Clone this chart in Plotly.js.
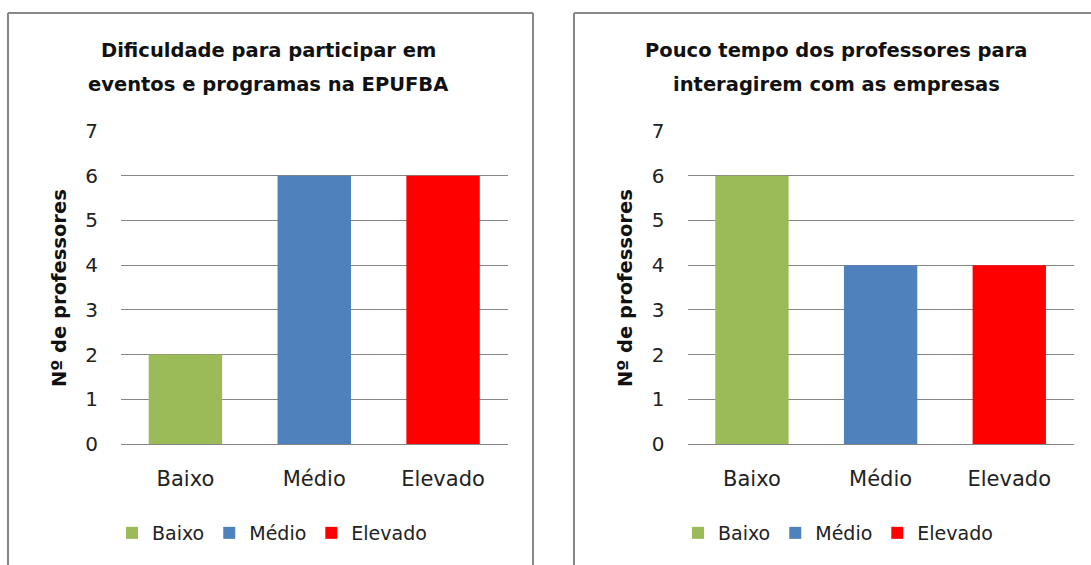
<!DOCTYPE html>
<html>
<head>
<meta charset="utf-8">
<script src="https://cdn.plot.ly/plotly-3.0.1.min.js"></script>
<style>html,body{margin:0;padding:0;background:#fff;}#chart{width:1091px;height:565px;}</style>
</head>
<body>
<div id="chart"></div>
<script>
const categories = ['Baixo', 'Médio', 'Elevado'];
const chart1Title = ['Dificuldade para participar em', 'eventos e programas na EPUFBA'];
const chart2Title = ['Pouco tempo dos professores para', 'interagirem com as empresas'];
const chart1Values = [2, 6, 6];
const chart2Values = [6, 4, 4];
const yTickValues = [0, 1, 2, 3, 4, 5, 6, 7];
const yAxisTitle = 'Nº de professores';
const barColors = ['#9BBB59', '#4F81BD', '#FF0000'];

const W = 1091, H = 565;
const px = x => x / W;
const py = y => (H - y) / H;
const FONT = '"DejaVu Sans", sans-serif';

const traces = [];
categories.forEach((c, i) => {
  traces.push({type: 'bar', x: [c], y: [chart1Values[i]], name: c, width: 0.57,
    marker: {color: barColors[i], line: {width: 0}}, xaxis: 'x', yaxis: 'y', legend: 'legend', hoverinfo: 'none'});
});
categories.forEach((c, i) => {
  traces.push({type: 'bar', x: [c], y: [chart2Values[i]], name: c, width: 0.57,
    marker: {color: barColors[i], line: {width: 0}}, xaxis: 'x2', yaxis: 'y2', legend: 'legend2', hoverinfo: 'none'});
});

const yax = (anchor) => ({
  anchor: anchor, domain: [py(444), py(131)], range: [0, 7], tickvals: yTickValues,
  showgrid: true, gridcolor: '#868686', gridwidth: 1, zeroline: true, zerolinecolor: '#868686', zerolinewidth: 1,
  showline: false, ticks: '', ticklabelstandoff: 22, tickfont: {family: FONT, size: 20, color: '#222'}, fixedrange: true
});
const xax = (anchor, d) => ({
  anchor: anchor, domain: d, type: 'category', categoryorder: 'array', categoryarray: categories,
  showline: false, ticks: '', ticklabelstandoff: 20, tickfont: {family: FONT, size: 21, color: '#222'}, fixedrange: true
});

const legendCfg = (x) => ({
  orientation: 'h', x: x, y: py(533), xanchor: 'left', yanchor: 'middle', bgcolor: 'rgba(0,0,0,0)',
  font: {family: FONT, size: 19, color: '#222'}, traceorder: 'normal', itemclick: false, itemdoubleclick: false
});

const ann = [];
function titleAnn(lines, cx) {
  lines.forEach((t, i) => ann.push({text: '<b>' + t + '</b>', x: px(cx), y: py(50 + i * 34), xref: 'paper', yref: 'paper',
    showarrow: false, xanchor: 'center', yanchor: 'middle', font: {family: FONT, size: 19.5, color: '#111'}}));
}
titleAnn(chart1Title, 268);
titleAnn(chart2Title, 836);
[59, 625].forEach(cx => ann.push({text: '<b>' + yAxisTitle + '</b>', x: px(cx), y: py(288), xref: 'paper', yref: 'paper',
  showarrow: false, textangle: -90, xanchor: 'center', yanchor: 'middle', font: {family: FONT, size: 19.5, color: '#111'}}));

const border = {type: 'line', xref: 'paper', yref: 'paper', line: {color: '#888888', width: 2}};
const shapes = [
  Object.assign({}, border, {x0: px(8), x1: px(533), y0: py(13), y1: py(13)}),
  Object.assign({}, border, {x0: px(8), x1: px(8), y0: py(13), y1: py(600)}),
  Object.assign({}, border, {x0: px(533), x1: px(533), y0: py(13), y1: py(600)}),
  Object.assign({}, border, {x0: px(574), x1: px(1100), y0: py(13), y1: py(13)}),
  Object.assign({}, border, {x0: px(574), x1: px(574), y0: py(13), y1: py(600)})
];

const layout = {
  width: W, height: H, margin: {l: 0, r: 0, t: 0, b: 0}, paper_bgcolor: '#fff', plot_bgcolor: 'rgba(0,0,0,0)',
  barmode: 'overlay', showlegend: true,
  xaxis: xax('y', [px(121), px(507.5)]), yaxis: yax('x'),
  xaxis2: xax('y2', [px(687.6), px(1073.6)]), yaxis2: yax('x2'),
  legend: legendCfg(px(112)), legend2: legendCfg(px(678)),
  annotations: ann, shapes: shapes
};

Plotly.newPlot('chart', traces, layout, {staticPlot: true, displayModeBar: false});
</script>
</body>
</html>
